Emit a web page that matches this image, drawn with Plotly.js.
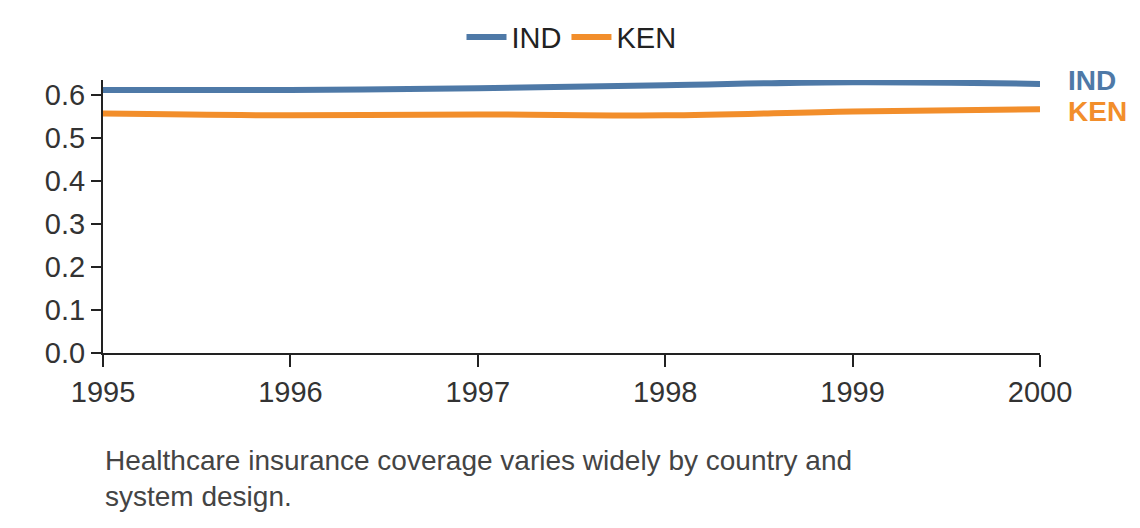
<!DOCTYPE html>
<html>
<head>
<script src="https://cdn.plot.ly/plotly-3.0.1.min.js"></script>
<style>body{margin:0}</style>
</head>
<body>
<div id="chart" style="width:1140px;height:528px"></div>
<script>
var years = [1995, 1996, 1997, 1998, 1999, 2000];
var ind = [0.611, 0.611, 0.615, 0.622, 0.629, 0.625];
var ken = [0.556, 0.552, 0.554, 0.552, 0.561, 0.566];
var blue = '#4e79a7', orange = '#f28e2b';

var data = [
  {x: years, y: ind, name: 'IND', type: 'scatter', mode: 'lines',
   line: {color: blue, width: 6, shape: 'spline'}},
  {x: years, y: ken, name: 'KEN', type: 'scatter', mode: 'lines',
   line: {color: orange, width: 6, shape: 'spline'}}
];

var layout = {
  width: 1140, height: 528,
  margin: {l: 103, r: 100, t: 73, b: 175},
  font: {family: 'Arial, Liberation Sans, sans-serif', size: 29, color: '#333'},
  showlegend: true,
  legend: {orientation: 'h', x: 0.5, xanchor: 'center', y: 1.25, yanchor: 'top',
           font: {size: 29, color: '#222'}, itemwidth: 40},
  xaxis: {range: [1995, 2000], showgrid: false, zeroline: false, showline: true,
          linecolor: '#222', linewidth: 2, ticks: 'outside', ticklen: 12,
          tickcolor: '#222', tickwidth: 2, dtick: 1, tickfont: {size: 29, color: '#333'}},
  yaxis: {range: [0, 0.634], showgrid: false, zeroline: false, showline: true,
          linecolor: '#222', linewidth: 2, ticks: 'outside', ticklen: 10,
          tickcolor: '#222', tickwidth: 2, dtick: 0.1, tickformat: '.1f',
          tickfont: {size: 29, color: '#333'}},
  annotations: [
    {x: 2000, y: ind[5], xref: 'x', yref: 'y', text: '<b>IND</b>', showarrow: false,
     xanchor: 'left', xshift: 26, yshift: 3, font: {size: 28, color: blue}},
    {x: 2000, y: ken[5], xref: 'x', yref: 'y', text: '<b>KEN</b>', showarrow: false,
     xanchor: 'left', xshift: 26, yshift: -2, font: {size: 28, color: orange}},
    {x: 0, y: -0.33, xref: 'paper', yref: 'paper', xanchor: 'left', yanchor: 'top',
     align: 'left', showarrow: false,
     text: 'Healthcare insurance coverage varies widely by country and<br>system design.',
     font: {size: 28, color: '#444'}}
  ]
};

Plotly.newPlot('chart', data, layout, {displayModeBar: false});
</script>
</body>
</html>
